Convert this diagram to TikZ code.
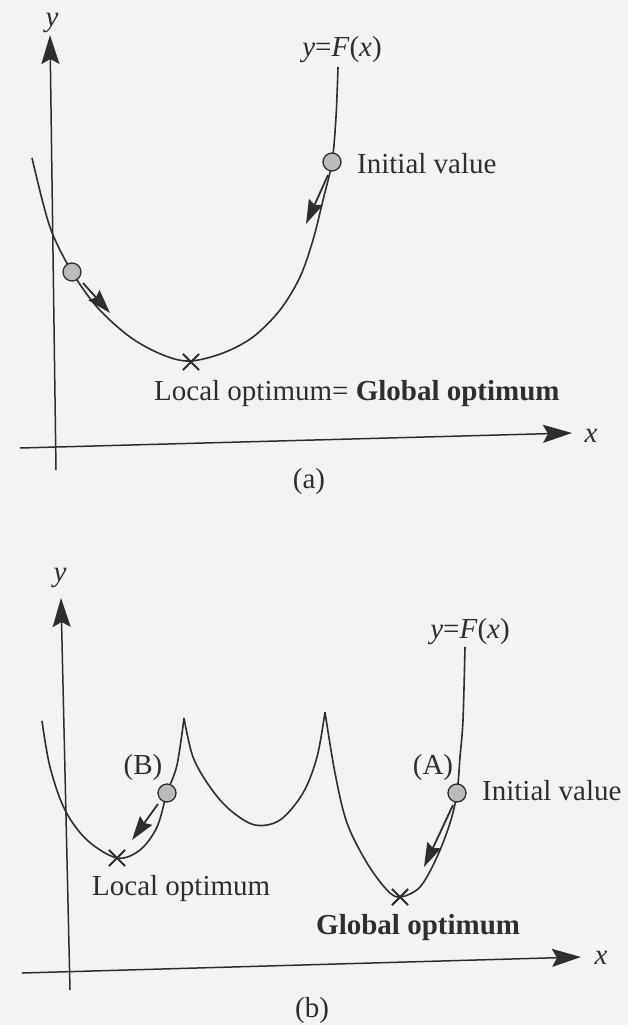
\documentclass[tikz,border=0pt]{standalone}
\usepackage{fontspec}
\setmainfont{Liberation Serif}
\usetikzlibrary{arrows.meta,shapes.misc}
\definecolor{ink}{HTML}{2E2E2E}
\definecolor{ballgray}{HTML}{BBBBBB}
\definecolor{paper}{HTML}{F3F3F3}
\begin{document}
\begin{tikzpicture}[x=1pt,y=-1pt,
  curve/.style={line width=1.6pt, draw=ink, line join=round},
  axis/.style={line width=1.5pt, draw=ink, -{Stealth[length=29pt,width=18pt,inset=5pt]}},
  move/.style={line width=1.8pt, draw=ink, -{Stealth[length=24pt,width=15pt,inset=3pt]}},
  ball/.style={circle, draw=ink, fill=ballgray, line width=1.3pt, minimum size=18pt, inner sep=0pt},
  optx/.style={cross out, draw=ink, line width=2.1pt, minimum size=14pt, inner sep=0pt},
  lbl/.style={font=\fontsize{29}{32}\selectfont, text=ink, inner sep=0pt},
]
\fill[paper] (0,0) rectangle (628,1025);
\useasboundingbox (0,0) rectangle (628,1025);

% ================= panel (a) =================
\coordinate (aXs) at (20,448);
\coordinate (aXe) at (572,433);
\coordinate (aYs) at (56,470);
\coordinate (aYe) at (50,35);
\draw[axis] (aXs) -- (aXe);
\draw[axis] (aYs) -- (aYe);
\node[lbl, anchor=base] (aylab) at (52,27) {\textit{y}};
\node[lbl, anchor=base] (axlab) at (591,442) {\textit{x}};

\draw[curve] plot[smooth, tension=0.55] coordinates {
 (32,158) (43,203) (53,235) (72,272) (97,307) (130,337) (163,355) (190,361)
 (223,353) (253,337) (280,310) (300,277) (313,240) (323,200) (332,162) (336,117) (338,67)};

\coordinate (aL1) at (83,283);
\coordinate (aL2) at (110,313);
\coordinate (aR1) at (328,175);
\coordinate (aR2) at (306,224);
\draw[move] (aL1) -- (aL2);
\draw[move] (aR1) -- (aR2);
\node[ball] (aballL) at (72,272) {};
\node[ball] (aballR) at (332,162) {};
\node[optx] (aopt) at (191,362) {};

\node[lbl, anchor=base] (afun) at (342,57) {\textit{y}=\textit{F}(\textit{x})};
\node[lbl, anchor=base west] (ainit) at (357,173) {Initial value};
\node[lbl, anchor=base west] (aopttxt) at (154,400) {Local optimum= \textbf{Global optimum}};
\node[lbl, anchor=base] (acap) at (309,488) {(a)};

% ================= panel (b) =================
\coordinate (bXs) at (22,973);
\coordinate (bXe) at (581,957);
\coordinate (bYs) at (70,990);
\coordinate (bYe) at (61,598);
\draw[axis] (bXs) -- (bXe);
\draw[axis] (bYs) -- (bYe);
\node[lbl, anchor=base] (bylab) at (60,581) {\textit{y}};
\node[lbl, anchor=base] (bxlab) at (601,964) {\textit{x}};

\draw[curve] plot[smooth, tension=0.55] coordinates {
 (42,721) (50,767) (65,810) (87,840) (117,858) (140,850) (157,827) (167,793) (177,765) (184,718)};
\draw[curve] plot[smooth, tension=0.55] coordinates {
 (184,718) (193,757) (210,787) (230,810) (255,825) (280,820) (303,793) (317,757) (325,712)};
\draw[curve] plot[smooth, tension=0.55] coordinates {
 (325,712) (335,773) (347,823) (367,863) (387,890) (400,897) (420,887) (437,857) (450,823) (457,793) (460,757) (463,720) (465,647)};

\coordinate (bB1) at (158,804);
\coordinate (bB2) at (132,840);
\coordinate (bA1) at (453,805);
\coordinate (bA2) at (424,867);
\draw[move] (bB1) -- (bB2);
\draw[move] (bA1) -- (bA2);
\node[ball] (bballB) at (167,793) {};
\node[ball] (bballA) at (457,793) {};
\node[optx] (bloc) at (117,858) {};
\node[optx] (bglob) at (400,897) {};

\node[lbl, anchor=base] (bfun) at (470,638) {\textit{y}=\textit{F}(\textit{x})};
\node[lbl, anchor=base] (bAl) at (433,774) {(A)};
\node[lbl, anchor=base] (bBl) at (143,774) {(B)};
\node[lbl, anchor=base west] (binit) at (482,800) {Initial value};
\node[lbl, anchor=base west] (bloctxt) at (92,895) {Local optimum};
\node[lbl, anchor=base west] (bglobtxt) at (316,934) {\textbf{Global optimum}};
\node[lbl, anchor=base] (bcap) at (312,1017) {(b)};
\end{tikzpicture}
\end{document}
